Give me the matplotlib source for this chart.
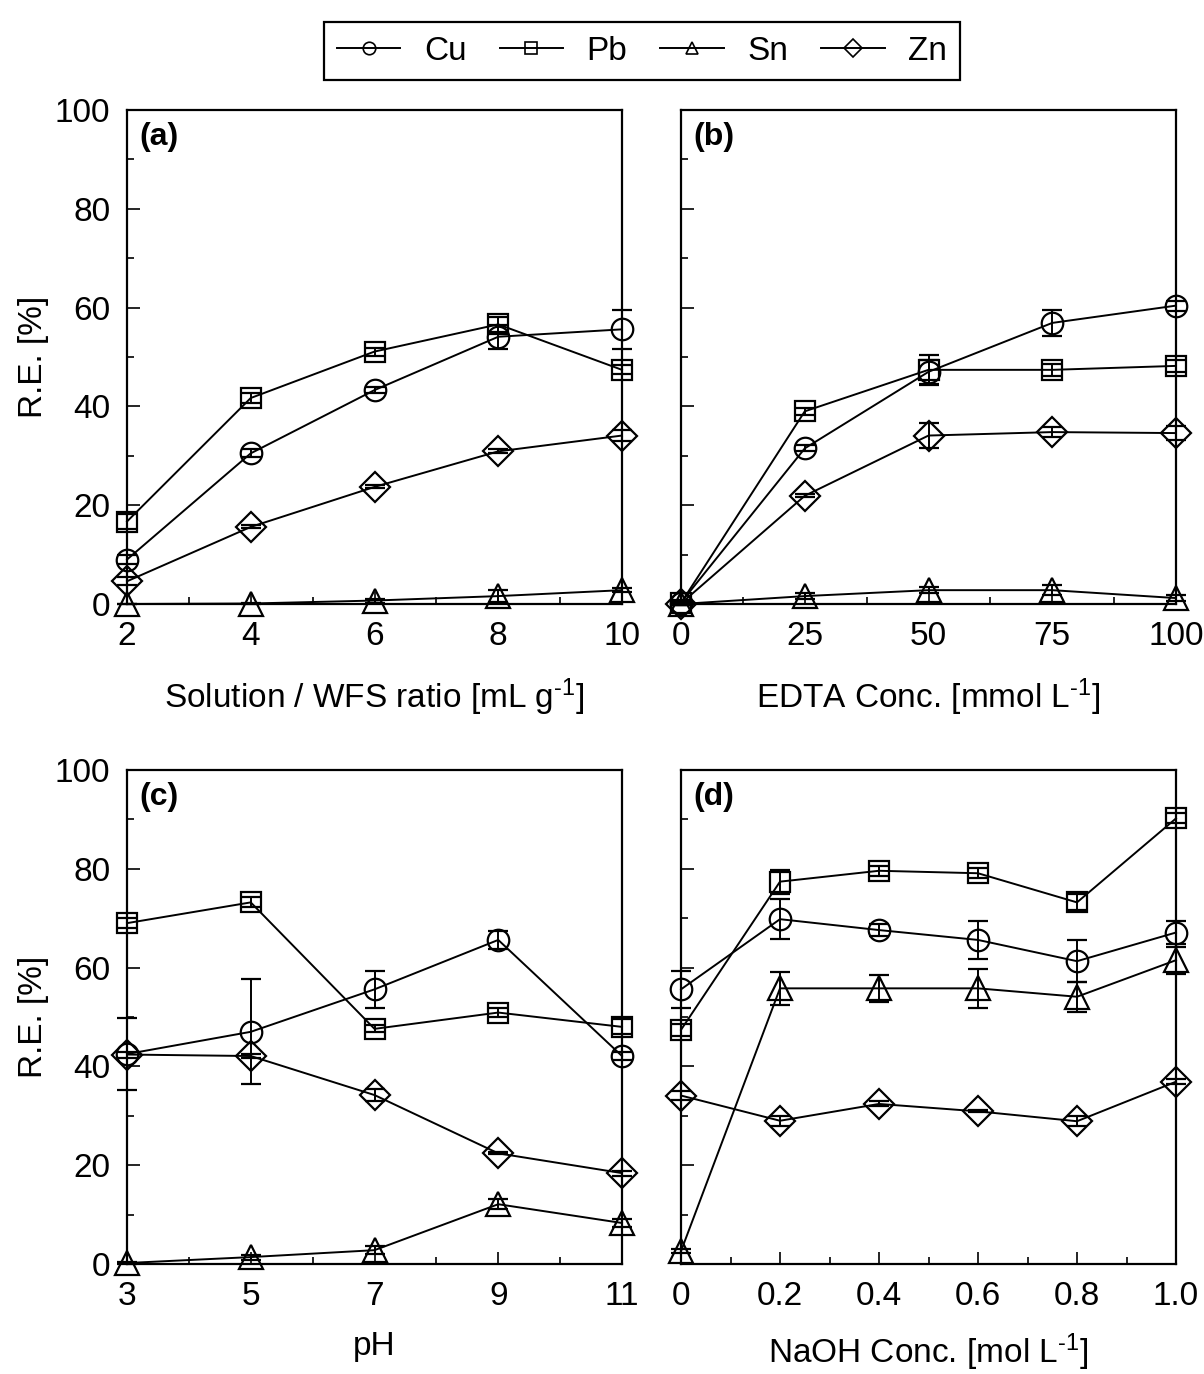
import matplotlib
matplotlib.use("Agg")
import matplotlib.pyplot as plt
from matplotlib.lines import Line2D
from matplotlib.ticker import MultipleLocator, FixedLocator, FixedFormatter

plt.rcParams['font.family'] = ['Liberation Sans', 'DejaVu Sans']
plt.rcParams['mathtext.fontset'] = 'custom'
plt.rcParams['mathtext.rm'] = 'Liberation Sans'
plt.rcParams['mathtext.default'] = 'regular'

metals = ['Cu', 'Pb', 'Sn', 'Zn']
markers = ['o', 's', '^', 'D']

# Panel (a): Solution / WFS ratio
a_x = [2, 4, 6, 8, 10]
a_cu = [9.0, 30.5, 43.3, 54.1, 55.6]
a_cu_err = [1.0, 0.8, 0.6, 2.4, 3.9]
a_pb = [16.7, 41.7, 51.1, 56.6, 47.4]
a_pb_err = [1.6, 1.0, 0.8, 1.5, 0.9]
a_sn = [0.0, 0.1, 0.7, 1.6, 2.8]
a_sn_err = [0.1, 0.1, 0.4, 1.2, 0.4]
a_zn = [4.6, 15.6, 23.7, 30.9, 34.1]
a_zn_err = [0.8, 0.3, 0.3, 0.4, 1.2]

# Panel (b): EDTA concentration
b_x = [0, 25, 50, 75, 100]
b_cu = [0.3, 31.5, 47.0, 56.9, 60.4]
b_cu_err = [0.5, 0.6, 2.4, 2.6, 1.0]
b_pb = [0.2, 39.0, 47.4, 47.4, 48.2]
b_pb_err = [0.5, 0.7, 3.0, 1.2, 1.2]
b_sn = [0.0, 1.6, 2.8, 2.8, 1.2]
b_sn_err = [0.3, 0.6, 0.6, 1.0, 0.6]
b_zn = [0.1, 21.9, 34.1, 34.8, 34.6]
b_zn_err = [0.3, 0.3, 2.6, 1.0, 1.4]

# Panel (c): pH
c_x = [3, 5, 7, 9, 11]
c_cu = [42.5, 47.0, 55.6, 65.6, 42.1]
c_cu_err = [7.3, 10.6, 3.8, 1.9, 0.9]
c_pb = [69.0, 73.2, 47.6, 50.9, 48.0]
c_pb_err = [1.0, 1.0, 0.7, 1.0, 1.5]
c_sn = [0.2, 1.4, 2.8, 12.1, 8.3]
c_sn_err = [0.2, 0.5, 0.8, 1.0, 0.8]
c_zn = [42.4, 42.1, 34.2, 22.4, 18.4]
c_zn_err = [0.6, 0.4, 1.3, 0.2, 0.5]

# Panel (d): NaOH concentration
d_x = [0, 0.2, 0.4, 0.6, 0.8, 1.0]
d_cu = [55.6, 69.8, 67.6, 65.6, 61.3, 67.1]
d_cu_err = [3.8, 4.0, 1.2, 3.8, 4.2, 2.3]
d_pb = [47.4, 77.4, 79.6, 79.1, 73.2, 90.2]
d_pb_err = [1.2, 2.4, 1.0, 1.0, 1.6, 1.0]
d_sn = [2.6, 55.8, 55.8, 55.8, 54.1, 61.5]
d_sn_err = [0.4, 3.3, 2.7, 4.0, 3.0, 2.7]
d_zn = [34.1, 29.0, 32.4, 30.9, 28.9, 36.9]
d_zn_err = [1.0, 1.0, 0.5, 0.2, 1.0, 0.5]

a_ticks = [2, 4, 6, 8, 10]
b_ticks = [0, 25, 50, 75, 100]
c_ticks = [3, 5, 7, 9, 11]
d_ticks = [0, 0.2, 0.4, 0.6, 0.8, 1.0]
d_ticklabels = ['0', '0.2', '0.4', '0.6', '0.8', '1.0']
y_ticks = [0, 20, 40, 60, 80, 100]

xlabels = ['Solution / WFS ratio [mL g$^{\u2010 1}$]',
           'EDTA Conc. [mmol L$^{\u2010 1}$]',
           'pH',
           'NaOH Conc. [mol L$^{\u2010 1}$]']
panel_tags = ['(a)', '(b)', '(c)', '(d)']

panels = [
    (a_x, [(a_cu, a_cu_err), (a_pb, a_pb_err), (a_sn, a_sn_err), (a_zn, a_zn_err)], a_ticks, None, 1.0),
    (b_x, [(b_cu, b_cu_err), (b_pb, b_pb_err), (b_sn, b_sn_err), (b_zn, b_zn_err)], b_ticks, None, 12.5),
    (c_x, [(c_cu, c_cu_err), (c_pb, c_pb_err), (c_sn, c_sn_err), (c_zn, c_zn_err)], c_ticks, None, 1.0),
    (d_x, [(d_cu, d_cu_err), (d_pb, d_pb_err), (d_sn, d_sn_err), (d_zn, d_zn_err)], d_ticks, d_ticklabels, 0.1),
]

W, H = 1204, 1374
fig = plt.figure(figsize=(W / 100, H / 100), dpi=100)

lefts = [127, 681, 127, 681]
tops = [110, 110, 770, 770]
aw, ah = 495, 494

FS = 24
msizes = {'o': 15.5, 's': 15, '^': 17, 'D': 15}
for i, (xs, series, ticks, ticklabels, minor) in enumerate(panels):
    l, t = lefts[i], tops[i]
    ax = fig.add_axes([l / W, 1 - (t + ah) / H, aw / W, ah / H])
    for (vals, errs), mk in zip(series, markers):
        ax.errorbar(xs, vals, yerr=errs, fmt='-', marker=mk, color='k',
                    mfc='none', mec='k', mew=1.6, ms=msizes[mk],
                    lw=1.4, elinewidth=1.4, capsize=7, capthick=1.4,
                    clip_on=False, zorder=3)
    ax.set_xlim(ticks[0], ticks[-1])
    ax.set_ylim(0, 100)
    ax.xaxis.set_major_locator(FixedLocator(ticks))
    if ticklabels is not None:
        ax.xaxis.set_major_formatter(FixedFormatter(ticklabels))
    ax.xaxis.set_minor_locator(MultipleLocator(minor))
    ax.yaxis.set_major_locator(FixedLocator(y_ticks))
    ax.yaxis.set_minor_locator(MultipleLocator(10))
    ax.tick_params(which='both', direction='in', top=False, right=False,
                   labelsize=FS, width=1.2)
    ax.tick_params(which='major', length=9, pad=12)
    ax.tick_params(which='minor', length=5)
    for sp in ax.spines.values():
        sp.set_linewidth(1.6)
    if i in (1, 3):
        ax.tick_params(axis='y', labelleft=False)
    else:
        ax.set_ylabel('R.E. [%]', fontsize=FS, labelpad=4)
    ax.set_xlabel(xlabels[i], fontsize=FS, labelpad=18 if i < 2 else 14)
    ax.text(0.025, 0.975, panel_tags[i], transform=ax.transAxes,
            fontsize=23, fontweight='bold', va='top', ha='left')

handles = [Line2D([], [], color='k', lw=1.4, marker=mk, ms=9, mfc='none',
                  mec='k', mew=1.2) for mk in markers]
leg = fig.legend(handles, metals, loc='center', bbox_to_anchor=(642 / W, 1 - 51 / H),
                 ncol=4, fontsize=FS, frameon=True, fancybox=False, framealpha=1,
                 edgecolor='k', handlelength=1.9, handletextpad=0.7,
                 columnspacing=1.0, borderpad=0.4)
leg.get_frame().set_linewidth(1.6)

fig.savefig('out.png', dpi=100)
